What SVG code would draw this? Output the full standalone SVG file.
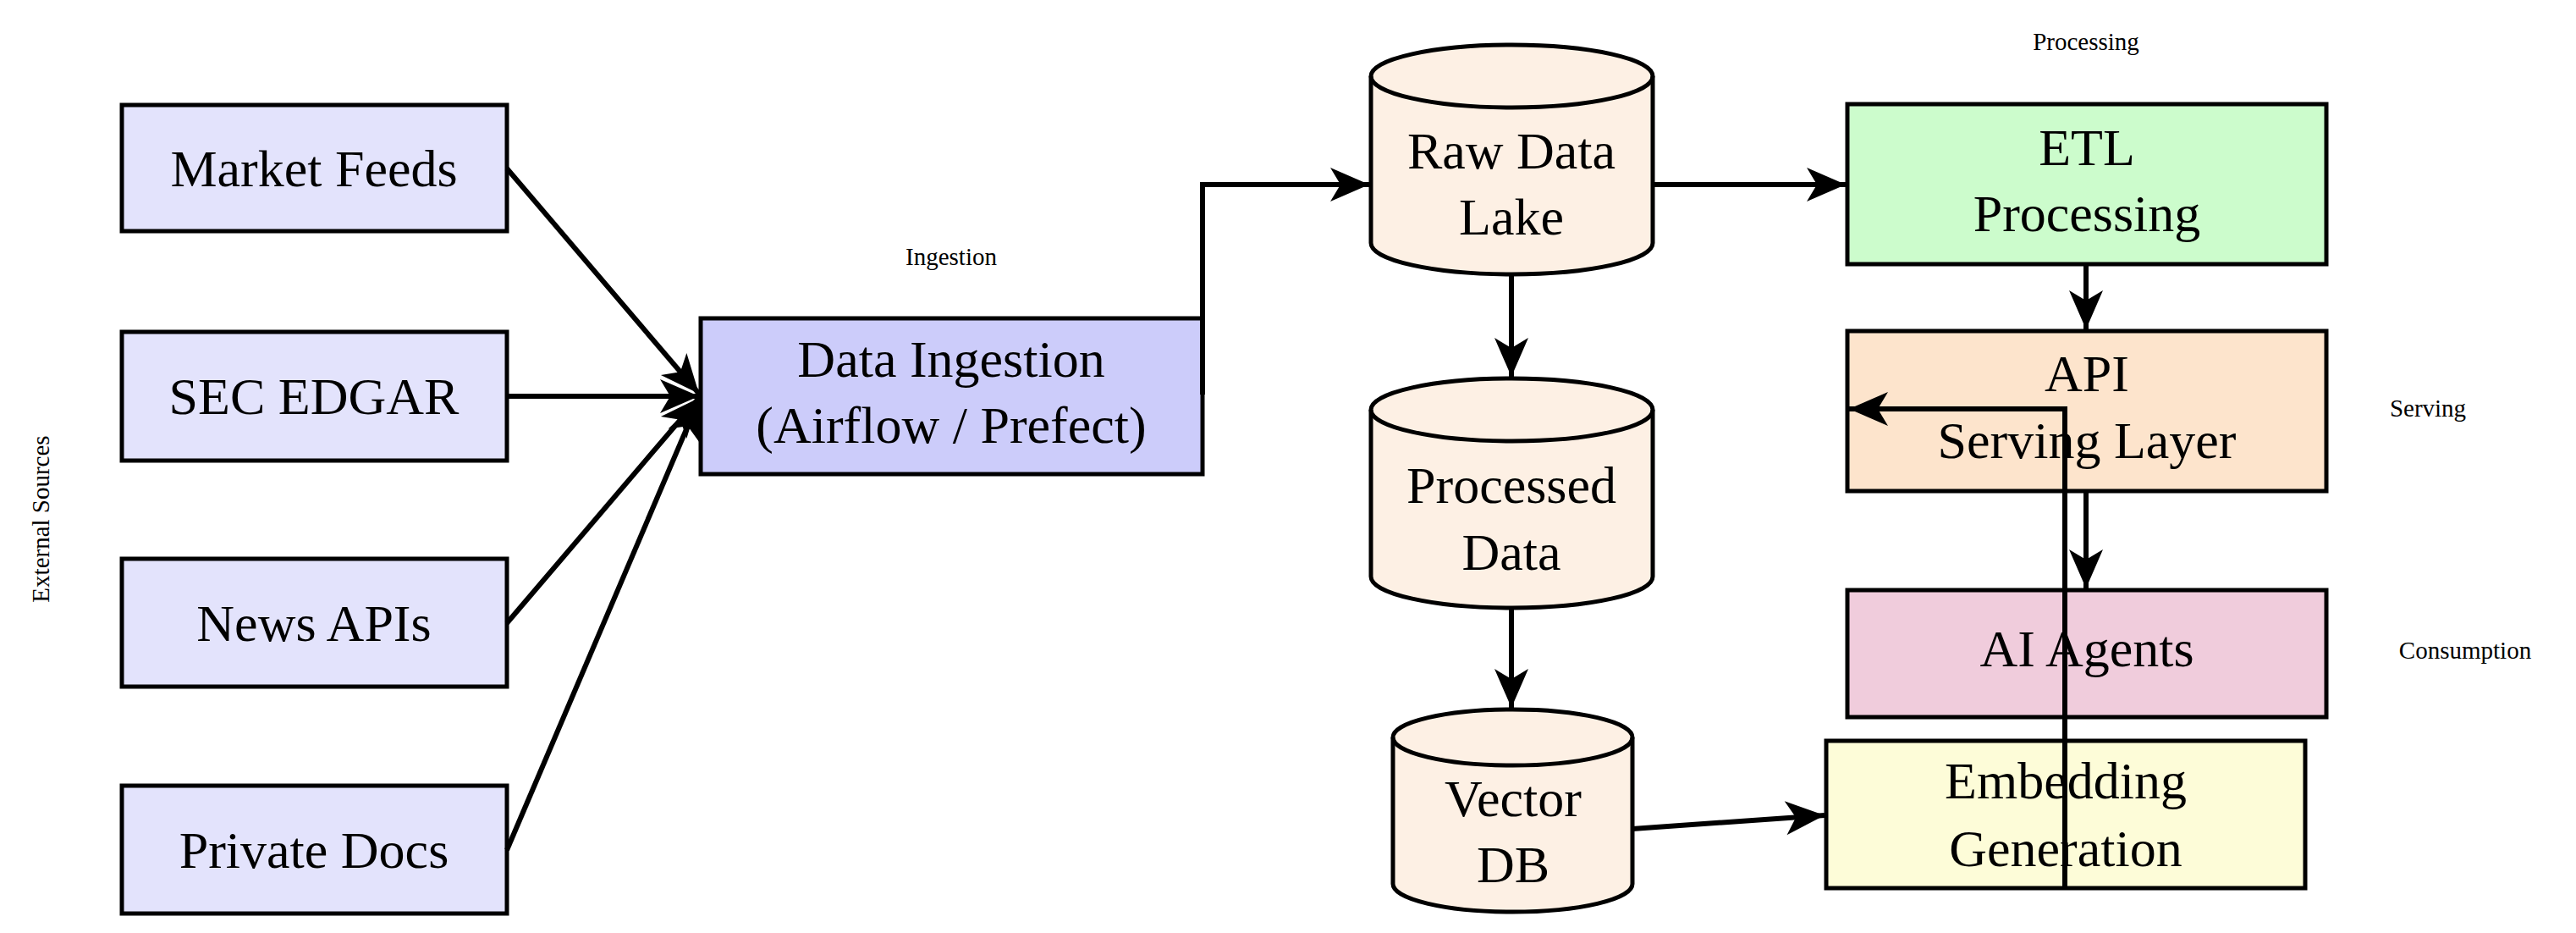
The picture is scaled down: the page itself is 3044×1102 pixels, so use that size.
<svg xmlns="http://www.w3.org/2000/svg" width="3044" height="1102" viewBox="0 0 3044 1102">
<style>
.n{stroke:#000;stroke-width:5}
.t{font-family:"Liberation Serif","DejaVu Serif",serif;font-size:62px;text-anchor:middle;dominant-baseline:central}
.s{font-family:"Liberation Serif","DejaVu Serif",serif;font-size:29px;text-anchor:middle;dominant-baseline:central}
.c{fill:none;stroke:#000;stroke-width:6;marker-end:url(#a)}
</style>
<defs>
<marker id="a" markerUnits="userSpaceOnUse" markerWidth="60" markerHeight="60" viewBox="-50 -25 60 50" refX="0" refY="0" orient="auto">
<path d="M0,0 L-46,-20 L-34,0 L-46,20 Z" fill="#000"/>
</marker>
</defs>
<rect width="3044" height="1102" fill="#fff"/>
<text class="s" transform="translate(48,613) rotate(-90)">External Sources</text>
<text class="s" x="1124" y="303">Ingestion</text>
<text class="s" x="2465" y="49">Processing</text>
<text class="s" x="2869" y="482">Serving</text>
<text class="s" x="2913" y="768">Consumption</text>
<g id="market"><rect class="n" x="144" y="124" width="455" height="149" fill="#e3e3fc"/><text class="t" x="371" y="199">Market Feeds</text></g>
<g id="sec"><rect class="n" x="144" y="392" width="455" height="152" fill="#e3e3fc"/><text class="t" x="371" y="468">SEC EDGAR</text></g>
<g id="news"><rect class="n" x="144" y="660" width="455" height="151" fill="#e3e3fc"/><text class="t" x="371" y="736">News APIs</text></g>
<g id="private"><rect class="n" x="144" y="928" width="455" height="151" fill="#e3e3fc"/><text class="t" x="371" y="1004">Private Docs</text></g>
<g id="ingest"><rect class="n" x="828" y="376" width="593" height="184" fill="#ccccfa"/><text class="t" x="1124" y="424">Data Ingestion</text><text class="t" x="1124" y="502">(Airflow / Prefect)</text></g>
<g id="raw"><path class="n" fill="#fdf0e4" d="M1620,90 V287 A166.5,37 0 0 0 1953,287 V90 A166.5,37 0 0 0 1620,90 Z"/><path fill="none" class="n" d="M1620,90 A166.5,37 0 0 0 1953,90"/><text class="t" x="1786" y="178">Raw Data</text><text class="t" x="1786" y="256">Lake</text></g>
<g id="processed"><path class="n" fill="#fdf0e4" d="M1620,484 V681 A166.5,37 0 0 0 1953,681 V484 A166.5,37 0 0 0 1620,484 Z"/><path fill="none" class="n" d="M1620,484 A166.5,37 0 0 0 1953,484"/><text class="t" x="1786" y="573">Processed</text><text class="t" x="1786" y="652">Data</text></g>
<g id="vector"><path class="n" fill="#fdf0e4" d="M1646,871 V1044 A141.5,33 0 0 0 1929,1044 V871 A141.5,33 0 0 0 1646,871 Z"/><path fill="none" class="n" d="M1646,871 A141.5,33 0 0 0 1929,871"/><text class="t" x="1788" y="943">Vector</text><text class="t" x="1788" y="1021">DB</text></g>
<g id="etl"><rect class="n" x="2183" y="123" width="566" height="189" fill="#ccfccc"/><text class="t" x="2466" y="174">ETL</text><text class="t" x="2466" y="252">Processing</text></g>
<g id="api"><rect class="n" x="2183" y="391" width="566" height="189" fill="#fde4cc"/><text class="t" x="2466" y="441">API</text><text class="t" x="2466" y="520">Serving Layer</text></g>
<g id="agents"><rect class="n" x="2183" y="697" width="566" height="150" fill="#f0ccdc"/><text class="t" x="2466" y="766">AI Agents</text></g>
<g id="embed"><rect class="n" x="2158" y="875" width="566" height="174" fill="#fdfcd8"/><text class="t" x="2441" y="922">Embedding</text><text class="t" x="2441" y="1002">Generation</text></g>
<g id="connectors">
<path class="c" d="M599,199 L826,465"/>
<path class="c" d="M599,468 L826,468"/>
<path class="c" d="M599,736 L826,470"/>
<path class="c" d="M599,1004 L826,472"/>
<path class="c" d="M1421,466 V218 H1618"/>
<path class="c" d="M1953,218 H2181"/>
<path class="c" d="M1786,324 V445"/>
<path class="c" d="M1786,718 V836"/>
<path class="c" d="M1929,979 L2156,963"/>
<path class="c" d="M2465,312 V389"/>
<path class="c" d="M2465,580 V695"/>
<path class="c" d="M2440,1049 V483 H2185"/>
</g>
</svg>
